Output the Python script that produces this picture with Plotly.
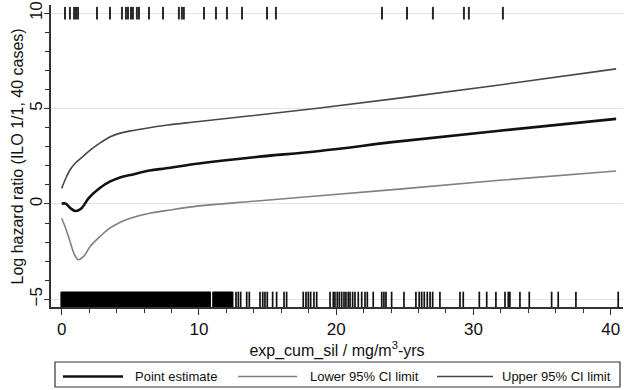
import plotly.graph_objects as go

# ---- data ----
pe_x = [0, 0.3, 0.6, 1.0, 1.4, 2.0, 2.8, 3.5, 4.2, 5.0, 6.4, 7.6, 10, 14, 18.8, 24.6, 31.9, 40.4]
pe_y = [0.02, 0.02, -0.2, -0.37, -0.25, 0.33, 0.85, 1.17, 1.38, 1.52, 1.75, 1.87, 2.12, 2.45, 2.78, 3.28, 3.84, 4.46]

lo_x = [0, 0.3, 0.6, 0.9, 1.2, 1.6, 2.1, 2.8, 3.5, 4.2, 5.0, 6.4, 7.6, 10, 14, 18.8, 24.6, 31.9, 40.4]
lo_y = [-0.75, -1.3, -1.95, -2.6, -2.92, -2.75, -2.2, -1.7, -1.27, -0.98, -0.75, -0.49, -0.35, -0.1, 0.14, 0.43, 0.78, 1.24, 1.73]

up_x = [0, 0.3, 0.6, 1.0, 1.4, 2.1, 2.8, 3.5, 4.2, 5.0, 6.4, 7.7, 10, 14, 18.8, 24.6, 31.9, 40.4]
up_y = [0.82, 1.35, 1.78, 2.15, 2.4, 2.83, 3.2, 3.51, 3.7, 3.83, 4.0, 4.14, 4.32, 4.64, 5.03, 5.55, 6.24, 7.08]

cases_x = [0.24, 0.6, 0.9, 1.04, 1.19, 2.57, 3.52, 4.39, 4.68, 4.83, 5.05, 5.19, 5.48, 5.63,
           6.36, 7.38, 8.54, 8.76, 8.9, 10.37, 11.24, 12.04, 13.14, 14.96, 15.61,
           23.34, 25.16, 27.05, 29.31, 29.67, 32.15]

# all subjects: densely packed exposures (visually solid band) ...
all_dense_x = [
    0.0, 0.1, 0.2, 0.3, 0.4, 0.5, 0.6, 0.7, 0.8, 0.9, 1.0, 1.1, 1.2, 1.3, 1.4, 1.5, 1.6, 1.7, 1.8, 1.9,
    2.0, 2.1, 2.2, 2.3, 2.4, 2.5, 2.6, 2.7, 2.8, 2.9, 3.0, 3.1, 3.2, 3.3, 3.4, 3.5, 3.6, 3.7, 3.8, 3.9,
    4.0, 4.1, 4.2, 4.3, 4.4, 4.5, 4.6, 4.7, 4.8, 4.9, 5.0, 5.1, 5.2, 5.3, 5.4, 5.5, 5.6, 5.7, 5.8, 5.9,
    6.0, 6.1, 6.2, 6.3, 6.4, 6.5, 6.6, 6.7, 6.8, 6.9, 7.0, 7.1, 7.2, 7.3, 7.4, 7.5, 7.6, 7.7, 7.8, 7.9,
    8.0, 8.1, 8.2, 8.3, 8.4, 8.5, 8.6, 8.7, 8.8, 8.9, 9.0, 9.1, 9.2, 9.3, 9.4, 9.5, 9.6, 9.7, 9.8, 9.9,
    10.0, 10.1, 10.2, 10.3, 10.4, 10.5, 10.6, 10.7, 10.78,
    11.06, 11.16, 11.26, 11.36, 11.46, 11.56, 11.66, 11.76, 11.86, 11.96, 12.06, 12.16, 12.26, 12.36, 12.42]
# ... and the sparser ones beyond
all_sparse_x = [
    12.70, 12.87, 13.04, 13.48, 13.67, 14.45, 14.65, 14.81, 14.98, 15.37, 15.66, 16.20, 16.39,
    17.60, 17.80, 17.97, 18.14, 18.38, 18.58, 19.55, 19.79, 19.91, 20.08, 20.23, 20.40, 20.57,
    20.71, 20.88, 21.01, 21.20, 21.37, 21.61, 21.86, 22.10, 22.27, 22.70, 23.32, 23.48, 23.63,
    24.04, 24.94, 25.81, 26.05, 26.23, 26.42, 26.64, 26.84, 27.03, 27.56, 29.02, 29.26, 30.43,
    30.97, 31.64, 32.30, 32.54, 32.66, 33.39, 34.07, 35.70, 36.18, 37.47, 40.55]

series_names = ["Point estimate", "Lower 95% CI limit", "Upper 95% CI limit"]
series_colors = ["#111111", "#808080", "#474747"]
series_widths = [2.6, 1.6, 1.6]

FONT = "Liberation Sans, Arial, sans-serif"

fig = go.Figure()

# rugs
fig.add_trace(go.Scatter(x=all_dense_x, y=[-5] * len(all_dense_x), mode="markers", showlegend=False,
                         hoverinfo="skip",
                         marker=dict(symbol="line-ns", size=11, line=dict(width=2.6, color="#000000"))))
fig.add_trace(go.Scatter(x=all_sparse_x, y=[-5] * len(all_sparse_x), mode="markers", showlegend=False,
                         hoverinfo="skip",
                         marker=dict(symbol="line-ns", size=11, line=dict(width=1.7, color="#111111"))))
fig.add_trace(go.Scatter(x=cases_x, y=[10] * len(cases_x), mode="markers", showlegend=False,
                         hoverinfo="skip",
                         marker=dict(symbol="line-ns", size=9, line=dict(width=2, color="#2a2a2a"))))

for xs, ys, name, c, w in zip([pe_x, lo_x, up_x], [pe_y, lo_y, up_y], series_names, series_colors, series_widths):
    fig.add_trace(go.Scatter(x=xs, y=ys, mode="lines", name=name, showlegend=False,
                             line=dict(color=c, width=w, shape="spline", smoothing=1.0)))

W, H = 624, 390
ml, mr, mt, mb = 51, 1, 5, 83
pw, ph = W - ml - mr, H - mt - mb


def px(xp):
    return (xp - ml) / pw


def py(yp):
    return (H - mb - yp) / ph


shapes = [dict(type="rect", xref="paper", yref="paper", x0=px(55), x1=px(620), y0=py(387), y1=py(362),
               line=dict(color="#333333", width=1.2), fillcolor="white", layer="above")]
annotations = []
leg_y = py(376.5)
seg = [(63, 123), (238, 297), (437, 493)]
txt_x = [133, 308, 500]
for (a, b), tx, name, c, w in zip(seg, txt_x, series_names, series_colors, series_widths):
    shapes.append(dict(type="line", xref="paper", yref="paper", x0=px(a), x1=px(b), y0=leg_y, y1=leg_y,
                       line=dict(color=c, width=w)))
    annotations.append(dict(xref="paper", yref="paper", x=px(tx), y=leg_y, text=name, showarrow=False,
                            xanchor="left", yanchor="middle", font=dict(size=13, color="#111111", family=FONT)))

# y-axis title
annotations.append(dict(xref="paper", yref="paper", x=px(16.5), y=py(157), text="Log hazard ratio (ILO 1/1, 40 cases)",
                        textangle=-90, showarrow=False, xanchor="center", yanchor="middle",
                        font=dict(size=16, color="#111111", family=FONT)))

fig.update_layout(
    width=W, height=H,
    margin=dict(l=ml, r=mr, t=mt, b=mb),
    paper_bgcolor="white", plot_bgcolor="white",
    font=dict(family=FONT, color="#111111"),
    shapes=shapes, annotations=annotations,
    showlegend=False,
)
fig.update_xaxes(range=[-0.78, 40.9], tickvals=[0, 10, 20, 30, 40], ticks="outside", ticklen=6,
                 tickwidth=1.3, tickcolor="#333333", showline=True, linecolor="#333333", linewidth=1.5,
                 showgrid=False, zeroline=False, tickfont=dict(size=17),
                 minor=dict(dtick=2, tick0=0, ticks="outside", ticklen=4, tickcolor="#333333", showgrid=False),
                 title=dict(text="exp_cum_sil / mg/m<sup>3</sup>-yrs", font=dict(size=16), standoff=2))
fig.update_yaxes(range=[-5.4, 10.43], tickvals=[-5, 0, 5, 10], ticktext=["\u22125", "0", "5", "10"],
                 ticks="outside", ticklen=5, tickwidth=1.3, tickcolor="#333333", tickangle=-90,
                 ticklabelstandoff=-5,
                 showline=True, linecolor="#333333", linewidth=1.5,
                 showgrid=True, gridcolor="#e3e3e3", gridwidth=1, zeroline=False, tickfont=dict(size=17),
                 minor=dict(dtick=1, tick0=0, ticks="outside", ticklen=4, tickcolor="#333333", showgrid=False))

fig.write_html("out.html")
